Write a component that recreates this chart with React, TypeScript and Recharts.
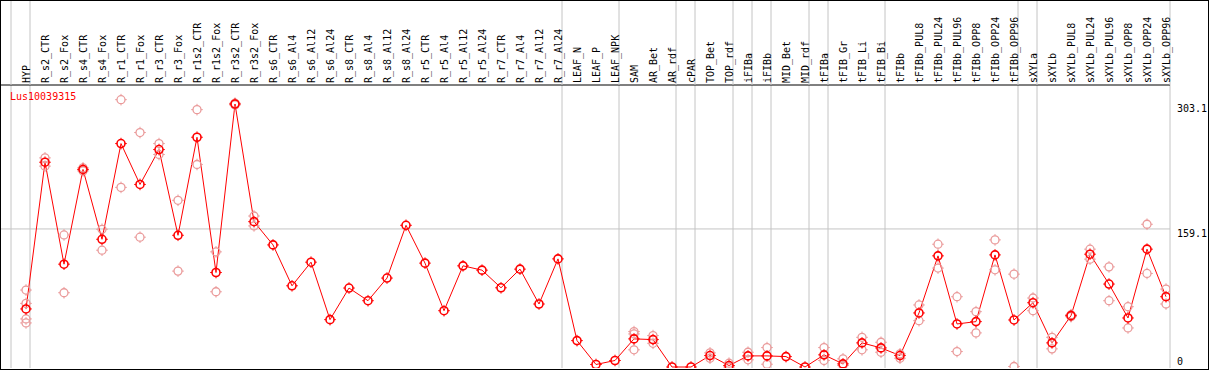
import { ComposedChart, Line, Scatter, XAxis, YAxis, ReferenceLine } from "recharts";

const SERIES_NAME = "Lus10039315";

const CATEGORIES = [
  "HYP", "R_s2_CTR", "R_s2_Fox", "R_s4_CTR", "R_s4_Fox", "R_r1_CTR", "R_r1_Fox",
  "R_r3_CTR", "R_r3_Fox", "R_r1s2_CTR", "R_r1s2_Fox", "R_r3s2_CTR", "R_r3s2_Fox",
  "R_s6_CTR", "R_s6_Al4", "R_s6_Al12", "R_s6_Al24", "R_s8_CTR", "R_s8_Al4",
  "R_s8_Al12", "R_s8_Al24", "R_r5_CTR", "R_r5_Al4", "R_r5_Al12", "R_r5_Al24",
  "R_r7_CTR", "R_r7_Al4", "R_r7_Al12", "R_r7_Al24", "LEAF_N", "LEAF_P", "LEAF_NPK",
  "SAM", "AR_Bet", "AR_rdf", "cPAR", "TOP_Bet", "TOP_rdf", "iFIBa", "iFIBb",
  "MID_Bet", "MID_rdf", "tFIBa", "tFIB_Gr", "tFIB_Li", "tFIB_Bi", "tFIBb",
  "tFIBb_PUL8", "tFIBb_PUL24", "tFIBb_PUL96", "tFIBb_OPP8", "tFIBb_OPP24",
  "tFIBb_OPP96", "sXYLa", "sXYLb", "sXYLb_PUL8", "sXYLb_PUL24", "sXYLb_PUL96",
  "sXYLb_OPP8", "sXYLb_OPP24", "sXYLb_OPP96",
];

const MEANS = [
  66.9, 236, 118.5, 227.7, 147.2, 257.5, 210.4, 250.6, 151.8, 264.8, 108.9, 303.1, 167.5,
  140.7, 93.6, 120.8, 54.6, 91, 76.4, 102.5, 163.3, 119.7, 64.9, 116.6, 111.6,
  91.3, 112.8, 72.6, 124.6, 30.4, 2.9, 7.5,
  32.4, 31.6, 0, 0, 13.2, 1.7, 12.8, 12.8, 12, 0, 14, 3.6, 27.8, 22, 13.2,
  62.3, 128.1, 49.6, 52.3, 129.2, 54.2, 74.1, 27.8, 59.2, 130, 95.6, 56.5, 135.8, 81,
];

const REPLICATES: number[][] = [
  [88.7, 73.3, 55.4, 50.8], [241, 231.5], [152.2, 85.6], [229.5, 226], [158.7, 134.6],
  [308.1, 207], [270.2, 149.6], [257.5, 244.9], [192.1, 110.5], [296.6, 233.4],
  [132.7, 86.7], [304, 302], [174, 162.6],
  [], [], [], [], [], [], [], [], [], [], [], [], [], [], [], [], [], [], [],
  [40.8, 38.1, 19.8], [36.2, 27.3], [], [], [16.3, 10.1], [4.4, 0], [17, 8.3],
  [22.4, 3.2], [], [], [22.4, 7.5], [9.4, 1.7], [34.2, 19.8], [28.5, 17],
  [15.2, 10.1], [71.5, 53.4], [141.5, 114], [81, 17.8], [63.8, 39.3], [146.5, 112],
  [107, 0.6], [79.5, 64.9], [34.2, 20.9], [60.3, 58], [135.8, 124.3], [115.4, 76.4],
  [69.5, 45], [164.5, 107.8], [89.8, 72.6],
];

// last column of each group (gray separator drawn right after it)
const GROUP_ENDS = [-1, 0, 28, 31, 34, 35, 37, 38, 39, 41, 42, 45, 52, 53, 60];
const Y_TICKS = [0, 159.1, 303.1];

const rows = CATEGORIES.map((name, idx) => ({ idx, name, mean: MEANS[idx] }));
const reps = REPLICATES.flatMap((vals, idx) => vals.map((value) => ({ idx, value })));
const ticks = CATEGORIES.map((_, i) => i);

const FONT = "'DejaVu Sans Mono', monospace";
const RED = "#ff0000";
const FADED = "#ea9a9a";
const GRID = "#c4c4c4";
const SEP_OFFSET = 4 / 19;

function Marker({ cx, cy, color, w }: { cx: number; cy: number; color: string; w: number }) {
  if (cx == null || cy == null) return null;
  return (
    <g>
      <circle cx={cx} cy={cy} r={4} fill="none" stroke={color} strokeWidth={w} />
      <path
        d={`M${cx},${cy - 4}v-1.8M${cx},${cy + 4}v1.8M${cx - 4},${cy}h-1.8M${cx + 4},${cy}h1.8`}
        stroke={color}
        strokeWidth={1}
      />
    </g>
  );
}

function CategoryTick(props: any) {
  const { x, payload, index } = props;
  const i = payload.value as number;
  return (
    <g>
      {GROUP_ENDS.includes(i) && <line x1={x + 4} x2={x + 4} y1={0} y2={85} stroke={GRID} />}
      {i === 0 && <line x1={x - 15} x2={x - 15} y1={0} y2={85} stroke={GRID} />}
      <text
        key={index}
        transform={`translate(${x + 3.5},83) rotate(-90)`}
        textAnchor="start"
        fontFamily={FONT}
        fontSize={10}
        fill="#000"
      >
        {CATEGORIES[i]}
      </text>
    </g>
  );
}

function ValueTick(props: any) {
  const { x, y, payload } = props;
  const v = payload.value as number;
  return (
    <text
      x={x}
      y={v === 0 ? y - 2 : y + 8}
      textAnchor="start"
      fontFamily={FONT}
      fontSize={10}
      fill="#000"
    >
      {v === 0 ? "0" : v.toFixed(1)}
    </text>
  );
}

export default function App() {
  return (
    <div style={{ position: "absolute", left: 0, top: 0, width: 1209, height: 370, background: "#fff" }}>
      <ComposedChart width={1209} height={370} margin={{ top: 0, right: 0, bottom: 2, left: 1 }}>
        <XAxis
          xAxisId={0}
          type="number"
          dataKey="idx"
          orientation="top"
          domain={[-25 / 19, 1144 / 19]}
          allowDataOverflow
          ticks={ticks}
          interval={0}
          height={85}
          tickLine={false}
          axisLine={{ stroke: "#000" }}
          tick={CategoryTick}
        />
        <YAxis
          yAxisId={0}
          type="number"
          orientation="right"
          width={39}
          domain={[-1.15, 325]}
          allowDataOverflow
          ticks={Y_TICKS}
          interval={0}
          tickSize={0}
          tickMargin={7}
          tickLine={false}
          axisLine={false}
          tick={ValueTick}
        />
        <ReferenceLine y={159.1} stroke={GRID} />
        {GROUP_ENDS.map((g) => (
          <ReferenceLine key={`sep-${g}`} x={g + SEP_OFFSET} stroke={GRID} />
        ))}
        <Scatter
          data={reps}
          dataKey="value"
          isAnimationActive={false}
          shape={(p: any) => <Marker cx={p.cx} cy={p.cy} color={FADED} w={1.3} />}
        />
        <Line
          data={rows}
          dataKey="mean"
          type="linear"
          stroke={RED}
          strokeWidth={1}
          isAnimationActive={false}
          dot={(p: any) => <Marker key={`d-${p.index}`} cx={p.cx} cy={p.cy} color={RED} w={1.6} />}
          activeDot={false}
        />
      </ComposedChart>
      <div
        style={{
          position: "absolute",
          left: 10,
          top: 91,
          color: RED,
          fontFamily: FONT,
          fontSize: 10,
          lineHeight: "11px",
        }}
      >
        {SERIES_NAME}
      </div>
      <div
        style={{
          position: "absolute",
          left: 0,
          top: 0,
          width: 1209,
          height: 370,
          boxSizing: "border-box",
          border: "1px solid #000",
          pointerEvents: "none",
        }}
      />
    </div>
  );
}
